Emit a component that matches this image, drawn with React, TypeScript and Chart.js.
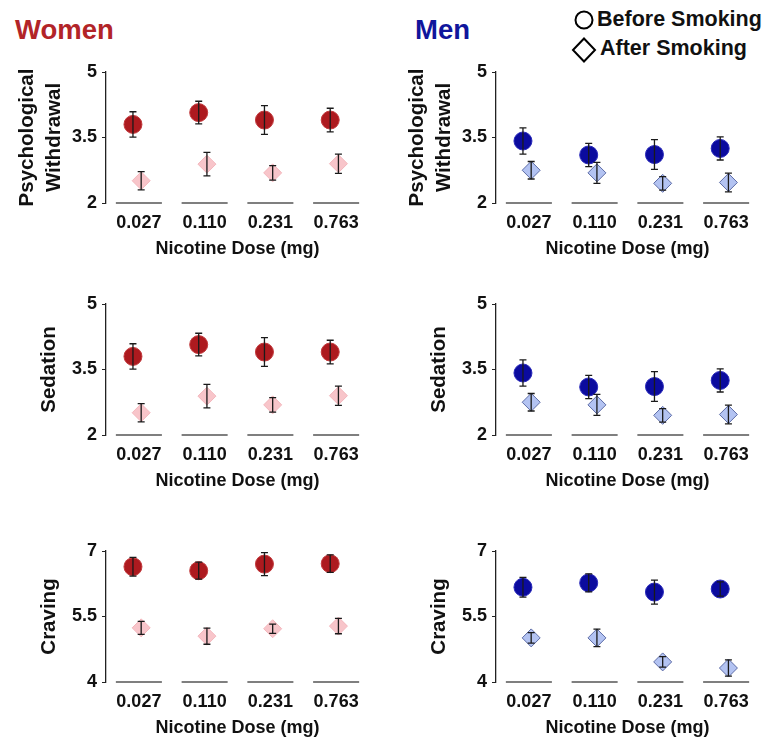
import React, { useEffect, useRef } from 'react';
import { Chart, registerables } from 'chart.js';

Chart.register(...registerables);

// ---------- data ----------
const DOSES = ['0.027', '0.110', '0.231', '0.763'];
const RATING_TICKS = [2, 3.5, 5];
const CRAVING_TICKS = [4, 5.5, 7];

const WOMEN_WITHDRAWAL_BEFORE = [3.8, 4.07, 3.9, 3.9];
const WOMEN_WITHDRAWAL_BEFORE_ERR = [0.29, 0.26, 0.33, 0.27];
const WOMEN_WITHDRAWAL_AFTER = [2.51, 2.89, 2.69, 2.9];
const WOMEN_WITHDRAWAL_AFTER_ERR = [0.21, 0.27, 0.165, 0.22];

const WOMEN_SEDATION_BEFORE = [3.8, 4.07, 3.9, 3.9];
const WOMEN_SEDATION_BEFORE_ERR = [0.29, 0.26, 0.33, 0.27];
const WOMEN_SEDATION_AFTER = [2.51, 2.89, 2.69, 2.9];
const WOMEN_SEDATION_AFTER_ERR = [0.21, 0.27, 0.165, 0.22];

const WOMEN_CRAVING_BEFORE = [6.64, 6.55, 6.7, 6.71];
const WOMEN_CRAVING_BEFORE_ERR = [0.215, 0.195, 0.265, 0.2];
const WOMEN_CRAVING_AFTER = [5.24, 5.05, 5.22, 5.28];
const WOMEN_CRAVING_AFTER_ERR = [0.15, 0.185, 0.105, 0.175];

const MEN_WITHDRAWAL_BEFORE = [3.42, 3.1, 3.11, 3.25];
const MEN_WITHDRAWAL_BEFORE_ERR = [0.3, 0.265, 0.34, 0.265];
const MEN_WITHDRAWAL_AFTER = [2.75, 2.69, 2.45, 2.47];
const MEN_WITHDRAWAL_AFTER_ERR = [0.2, 0.24, 0.155, 0.215];

const MEN_SEDATION_BEFORE = [3.42, 3.1, 3.11, 3.25];
const MEN_SEDATION_BEFORE_ERR = [0.3, 0.265, 0.34, 0.265];
const MEN_SEDATION_AFTER = [2.75, 2.69, 2.45, 2.47];
const MEN_SEDATION_AFTER_ERR = [0.2, 0.24, 0.155, 0.215];

const MEN_CRAVING_BEFORE = [6.17, 6.27, 6.06, 6.13];
const MEN_CRAVING_BEFORE_ERR = [0.225, 0.205, 0.275, 0.165];
const MEN_CRAVING_AFTER = [5.01, 5.01, 4.46, 4.32];
const MEN_CRAVING_AFTER_ERR = [0.12, 0.2, 0.12, 0.185];

// ---------- style ----------
const FONT = "'Liberation Sans', Arial, Helvetica, sans-serif";
const TEXT = '#111111';
const BEFORE_SHIFT = -0.09;
const AFTER_SHIFT = 0.035;
const SEG_HALF = 0.35;

const WOMEN_STYLE = {
  beforeFill: '#ad1a1f',
  beforeBorder: '#c23a3d',
  afterFill: '#f8c5ca',
  afterBorder: '#f3b6bc',
};
const MEN_STYLE = {
  beforeFill: '#0b0b9e',
  beforeBorder: '#2a2abb',
  afterFill: '#b3c3f2',
  afterBorder: '#5d6ca6',
};

const segmentPlugin = {
  id: 'segments',
  beforeDatasetsDraw(chart: any) {
    const xs = chart.scales.x;
    const bottom = chart.chartArea.bottom;
    const ctx = chart.ctx;
    ctx.save();
    ctx.strokeStyle = '#555555';
    ctx.lineWidth = 1.6;
    xs.ticks.forEach((t: any) => {
      ctx.beginPath();
      ctx.moveTo(xs.getPixelForValue(t.value - SEG_HALF), bottom);
      ctx.lineTo(xs.getPixelForValue(t.value + SEG_HALF), bottom);
      ctx.stroke();
    });
    ctx.restore();
  },
};

const errorBarPlugin = {
  id: 'errorBars',
  afterDatasetsDraw(chart: any) {
    const ys = chart.scales.y;
    const ctx = chart.ctx;
    ctx.save();
    ctx.strokeStyle = '#1a1a1a';
    ctx.lineWidth = 1.3;
    chart.data.datasets.forEach((ds: any, di: number) => {
      const meta = chart.getDatasetMeta(di);
      meta.data.forEach((el: any, i: number) => {
        const v = ds.data[i].y;
        const e = ds.errors[i];
        const yt = ys.getPixelForValue(v + e);
        const yb = ys.getPixelForValue(v - e);
        const x = el.x;
        ctx.beginPath();
        ctx.moveTo(x, yt);
        ctx.lineTo(x, yb);
        ctx.moveTo(x - 3.5, yt);
        ctx.lineTo(x + 3.5, yt);
        ctx.moveTo(x - 3.5, yb);
        ctx.lineTo(x + 3.5, yb);
        ctx.stroke();
      });
    });
    ctx.restore();
  },
};

type PanelProps = {
  left: number;
  top: number;
  title: string | string[];
  before: number[];
  beforeErr: number[];
  after: number[];
  afterErr: number[];
  yTicks: number[];
  style: typeof WOMEN_STYLE;
};

function Panel(p: PanelProps) {
  const ref = useRef<HTMLCanvasElement>(null);
  useEffect(() => {
    if (!ref.current) return;
    const twoLine = Array.isArray(p.title);
    const chart = new Chart(ref.current, {
      type: 'scatter',
      data: {
        datasets: [
          {
            label: 'Before Smoking',
            data: p.before.map((v, i) => ({ x: i + 1 + BEFORE_SHIFT, y: v })),
            errors: p.beforeErr,
            pointStyle: 'circle',
            pointRadius: 9,
            pointHoverRadius: 9,
            backgroundColor: p.style.beforeFill,
            borderColor: p.style.beforeBorder,
            borderWidth: 1,
          } as any,
          {
            label: 'After Smoking',
            data: p.after.map((v, i) => ({ x: i + 1 + AFTER_SHIFT, y: v })),
            errors: p.afterErr,
            pointStyle: 'rectRot',
            pointRadius: 9,
            pointHoverRadius: 9,
            backgroundColor: p.style.afterFill,
            borderColor: p.style.afterBorder,
            borderWidth: 1,
          } as any,
        ],
      },
      options: {
        animation: false,
        responsive: false,
        devicePixelRatio: 1,
        events: [],
        layout: { padding: { left: 0, right: 4, top: 22, bottom: 0 } },
        plugins: { legend: { display: false }, tooltip: { enabled: false } },
        scales: {
          x: {
            type: 'linear',
            min: 0.5,
            max: 4.5,
            grid: { display: false },
            border: { display: false },
            afterBuildTicks: (s: any) => {
              s.ticks = DOSES.map((_, i) => ({ value: i + 1 }));
            },
            afterFit: (s: any) => {
              s.height = 62;
            },
            ticks: {
              autoSkip: false,
              maxRotation: 0,
              padding: 1,
              color: TEXT,
              font: { family: FONT, size: 18, weight: 'bold' },
              callback: (_v: any, i: number) => DOSES[i],
            },
            title: {
              display: true,
              text: 'Nicotine Dose (mg)',
              color: TEXT,
              font: { family: FONT, size: 18, weight: 'bold' },
              padding: { top: 0, bottom: 5 },
            },
          },
          y: {
            type: 'linear',
            min: p.yTicks[0],
            max: p.yTicks[p.yTicks.length - 1],
            afterBuildTicks: (s: any) => {
              s.ticks = p.yTicks.map((v) => ({ value: v }));
            },
            afterFit: (s: any) => {
              s.width = 106;
            },
            grid: { drawOnChartArea: false, drawTicks: true, tickLength: 4, color: '#222222', lineWidth: 1 },
            border: { display: true, color: '#222222', width: 1.3 },
            ticks: {
              padding: 5,
              color: TEXT,
              font: { family: FONT, size: 18, weight: 'bold' },
              callback: (v: any) => String(v),
            },
            title: {
              display: true,
              text: p.title,
              color: TEXT,
              font: { family: FONT, size: 20.5, weight: 'bold', lineHeight: 1.3 },
              padding: { top: twoLine ? 14.5 : 36.5, bottom: 0 },
            },
          },
        },
      } as any,
      plugins: [segmentPlugin, errorBarPlugin],
    });
    return () => chart.destroy();
  }, []);
  return (
    <canvas
      ref={ref}
      width={379}
      height={215}
      style={{ position: 'absolute', left: p.left, top: p.top, width: 379, height: 215 }}
    />
  );
}

const ROW_TOPS = [50, 282, 529];
const COL_LEFTS = [0, 390];

export default function App() {
  return (
    <div
      style={{
        position: 'absolute',
        left: 0,
        top: 0,
        width: 769,
        height: 750,
        background: '#ffffff',
        fontFamily: FONT,
        overflow: 'hidden',
      }}
    >
      <div
        style={{
          position: 'absolute',
          left: 15,
          top: 16,
          fontSize: 27.5,
          lineHeight: '28px',
          fontWeight: 'bold',
          color: '#b22428',
          whiteSpace: 'nowrap',
        }}
      >
        Women
      </div>
      <div
        style={{
          position: 'absolute',
          left: 415,
          top: 16,
          fontSize: 27.5,
          lineHeight: '28px',
          fontWeight: 'bold',
          color: '#10169c',
          whiteSpace: 'nowrap',
        }}
      >
        Men
      </div>
      <svg style={{ position: 'absolute', left: 560, top: 0 }} width={50} height={70}>
        <circle cx={24} cy={20} r={8.5} fill="none" stroke="#000" strokeWidth={2} />
        <polygon points="13,50 24,38.5 35,50 24,61.5" fill="none" stroke="#000" strokeWidth={2} />
      </svg>
      <div
        style={{
          position: 'absolute',
          left: 597,
          top: 8,
          fontSize: 21.5,
          lineHeight: '22px',
          fontWeight: 'bold',
          color: TEXT,
          whiteSpace: 'nowrap',
        }}
      >
        Before Smoking
      </div>
      <div
        style={{
          position: 'absolute',
          left: 600,
          top: 36.5,
          fontSize: 21.5,
          lineHeight: '22px',
          fontWeight: 'bold',
          color: TEXT,
          whiteSpace: 'nowrap',
        }}
      >
        After Smoking
      </div>

      <Panel left={COL_LEFTS[0]} top={ROW_TOPS[0]} title={['Psychological', 'Withdrawal']}
        before={WOMEN_WITHDRAWAL_BEFORE} beforeErr={WOMEN_WITHDRAWAL_BEFORE_ERR}
        after={WOMEN_WITHDRAWAL_AFTER} afterErr={WOMEN_WITHDRAWAL_AFTER_ERR}
        yTicks={RATING_TICKS} style={WOMEN_STYLE} />
      <Panel left={COL_LEFTS[1]} top={ROW_TOPS[0]} title={['Psychological', 'Withdrawal']}
        before={MEN_WITHDRAWAL_BEFORE} beforeErr={MEN_WITHDRAWAL_BEFORE_ERR}
        after={MEN_WITHDRAWAL_AFTER} afterErr={MEN_WITHDRAWAL_AFTER_ERR}
        yTicks={RATING_TICKS} style={MEN_STYLE} />
      <Panel left={COL_LEFTS[0]} top={ROW_TOPS[1]} title="Sedation"
        before={WOMEN_SEDATION_BEFORE} beforeErr={WOMEN_SEDATION_BEFORE_ERR}
        after={WOMEN_SEDATION_AFTER} afterErr={WOMEN_SEDATION_AFTER_ERR}
        yTicks={RATING_TICKS} style={WOMEN_STYLE} />
      <Panel left={COL_LEFTS[1]} top={ROW_TOPS[1]} title="Sedation"
        before={MEN_SEDATION_BEFORE} beforeErr={MEN_SEDATION_BEFORE_ERR}
        after={MEN_SEDATION_AFTER} afterErr={MEN_SEDATION_AFTER_ERR}
        yTicks={RATING_TICKS} style={MEN_STYLE} />
      <Panel left={COL_LEFTS[0]} top={ROW_TOPS[2]} title="Craving"
        before={WOMEN_CRAVING_BEFORE} beforeErr={WOMEN_CRAVING_BEFORE_ERR}
        after={WOMEN_CRAVING_AFTER} afterErr={WOMEN_CRAVING_AFTER_ERR}
        yTicks={CRAVING_TICKS} style={WOMEN_STYLE} />
      <Panel left={COL_LEFTS[1]} top={ROW_TOPS[2]} title="Craving"
        before={MEN_CRAVING_BEFORE} beforeErr={MEN_CRAVING_BEFORE_ERR}
        after={MEN_CRAVING_AFTER} afterErr={MEN_CRAVING_AFTER_ERR}
        yTicks={CRAVING_TICKS} style={MEN_STYLE} />
    </div>
  );
}
